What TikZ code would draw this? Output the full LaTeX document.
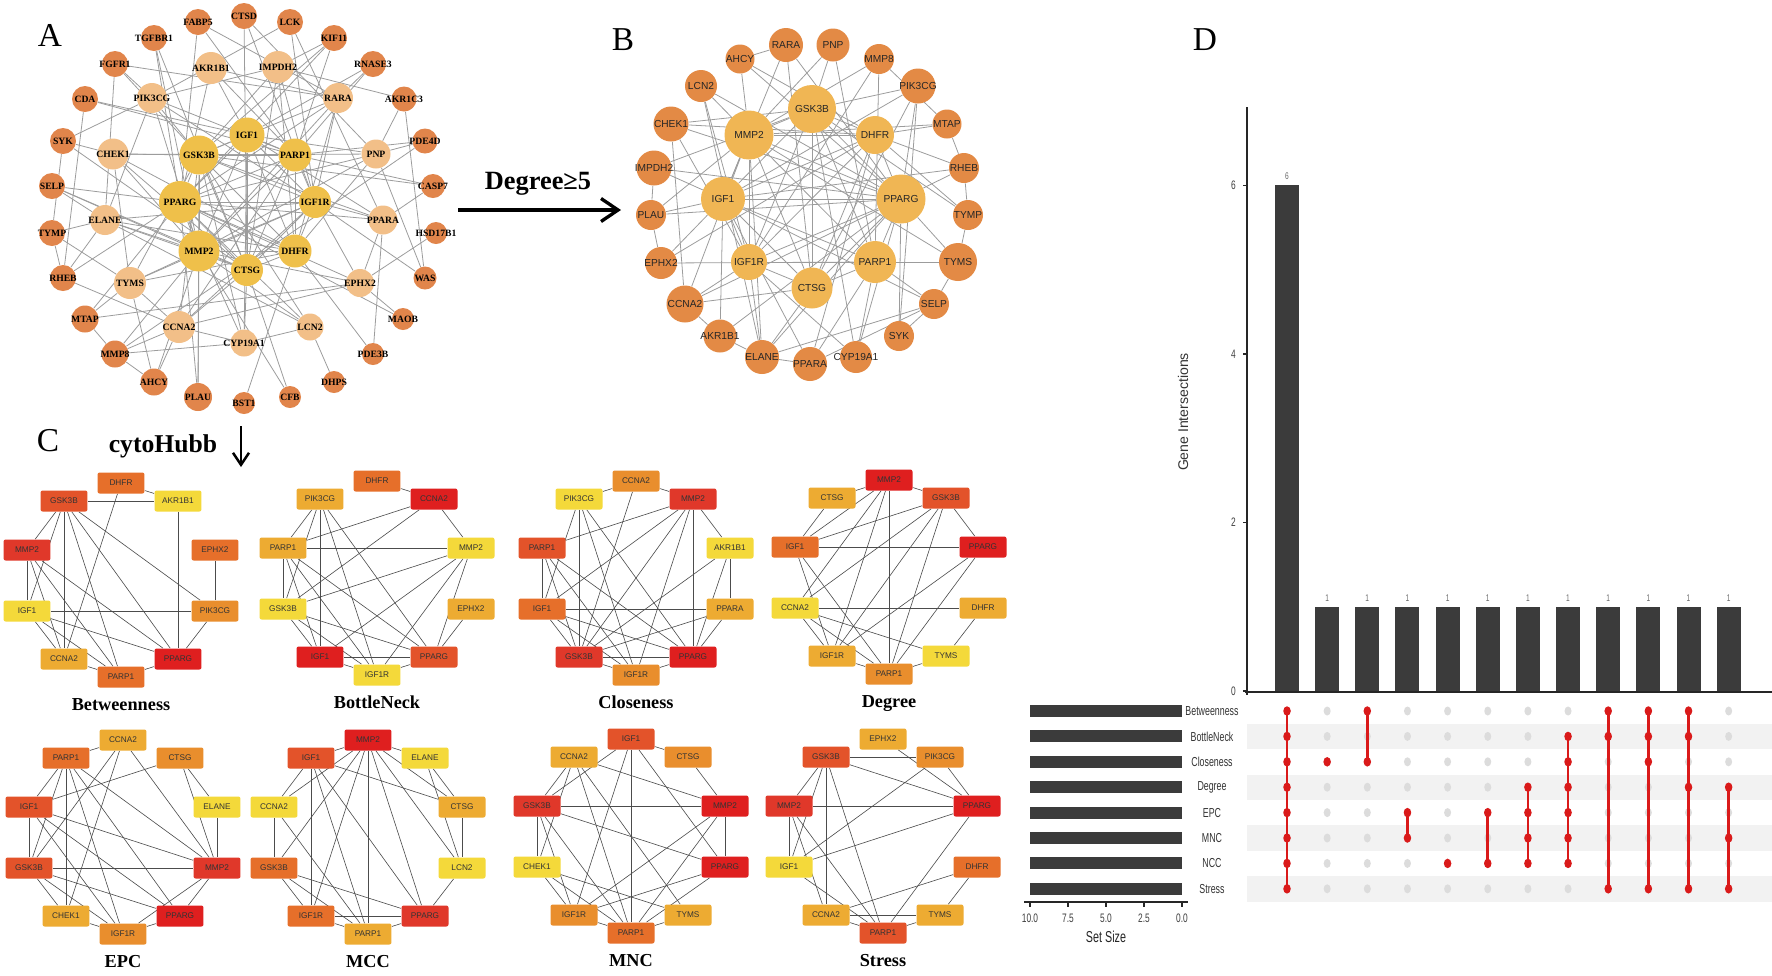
\documentclass[tikz,border=0pt]{standalone}
\usepackage{fontspec}
\setmainfont{Liberation Serif}
\setsansfont{Liberation Sans}
\newfontfamily\narrowsans[FakeStretch=0.68]{Liberation Sans}
\usetikzlibrary{arrows.meta}
\pgfdeclarelayer{bgfill}
\pgfdeclarelayer{edges}
\pgfsetlayers{bgfill,edges,main}
\definecolor{aouter}{HTML}{E1854B}
\definecolor{apeach}{HTML}{F2BF88}
\definecolor{ayellow}{HTML}{EFC04A}
\definecolor{bouter}{HTML}{E38A45}
\definecolor{binner}{HTML}{F0B654}
\definecolor{edgegray}{HTML}{9C9C9C}
\definecolor{hR1}{HTML}{DF1F1F}
\definecolor{hR2}{HTML}{E0382A}
\definecolor{hR3}{HTML}{E3532A}
\definecolor{hR4}{HTML}{E66F2A}
\definecolor{hR5}{HTML}{E98E2D}
\definecolor{hR6}{HTML}{EDAB32}
\definecolor{hR7}{HTML}{F4D93A}
\definecolor{barcol}{HTML}{3B3B3B}
\definecolor{dotred}{HTML}{DA1A1A}
\definecolor{dotgray}{HTML}{DCDCDC}
\definecolor{stripe}{HTML}{F2F2F2}
\tikzset{
  anode/.style={circle, inner sep=0pt, text=black, font=\fontsize{5.5}{6}\selectfont\bfseries},
  bnode/.style={circle, inner sep=0pt, text=black!85, font=\sffamily\fontsize{5.8}{6.5}\selectfont},
  aedge/.style={draw=edgegray, line width=0.45pt},
  hubbox/.style={rectangle, rounded corners=1.2pt, minimum width=0.94cm, minimum height=0.42cm, inner sep=0pt, text=black!80, font=\sffamily\fontsize{4.7}{5}\selectfont},
  hubedge/.style={draw=black!70, line width=0.35pt},
  hubtitle/.style={anchor=base, font=\bfseries\fontsize{10.4}{12}\selectfont},
  panellabel/.style={font=\fontsize{19}{22}\selectfont},
  bigarrow/.style={line width=1.9pt, -{Straight Barb[length=3.4mm,width=4.6mm]}},
  downarrow/.style={line width=1.4pt, -{Straight Barb[length=2.4mm,width=3.2mm]}},
  arrowtext/.style={font=\bfseries\fontsize{15}{17}\selectfont},
  axisline/.style={draw=black!85, line width=0.8pt},
  rowlabel/.style={font=\narrowsans\fontsize{7.4}{8}\selectfont, text=black!80},
  ticklabel/.style={font=\narrowsans\fontsize{7}{8}\selectfont, text=black!75},
  barlabel/.style={font=\narrowsans\fontsize{5.5}{6}\selectfont, text=black!60},
}
\newcommand\hubpanel[5]{%
  \foreach \hs/\hg/\hc in {#5} {
    \pgfmathsetmacro\px{#2+{0,-57,57,-94,94,-94,94,-57,57,0}[\hs]}
    \pgfmathsetmacro\py{#3+{-97,-79,-79,-30,-30,31,31,79,79,97}[\hs]}
    \node[hubbox, fill=\hc] (#1-\hg) at (\px,\py) {\hg};
  }
  \node[hubtitle] (#1-title) at (#2,#3+130) {#4};
}
\begin{document}
\begin{tikzpicture}[x=0.02cm,y=-0.02cm]
\useasboundingbox (0,0) rectangle (1772,975);
\begin{pgfonlayer}{bgfill}
\fill[white] (0,0) rectangle (1772,975);
\end{pgfonlayer}

% ---------------- Panel A ----------------
\node[panellabel] (labA) at (50,35) {A};
\foreach \n/\x/\y/\d/\t in {
 FABP5/198/22/26/aouter, CTSD/244/16/26/aouter, LCK/290/22/26/aouter, TGFBR1/154/38/26/aouter,
 KIF11/334/38/26/aouter, FGFR1/115/64/26/aouter, RNASE3/373/64/26/aouter, CDA/85/99/26/aouter,
 AKR1C3/404/99/25/aouter, SYK/63/141/26/aouter, PDE4D/425/141/25/aouter, SELP/52/186/26/aouter,
 CASP7/433/186/24/aouter, TYMP/52/233/26/aouter, HSD17B1/436/233/22/aouter, RHEB/63/278/26/aouter,
 WAS/425/278/23/aouter, MTAP/85/319/27/aouter, MAOB/403/319/22/aouter, MMP8/115/354/27/aouter,
 PDE3B/373/354/22/aouter, AHCY/154/382/27/aouter, DHPS/334/382/22/aouter, PLAU/198/397/28/aouter,
 BST1/244/403/22/aouter, CFB/290/397/22/aouter,
 AKR1B1/211/68/32/apeach, IMPDH2/278/67/32/apeach, PIK3CG/152/98/30/apeach, RARA/338/98/30/apeach,
 CHEK1/113/154/31/apeach, PNP/376/154/29/apeach, ELANE/105/220/30/apeach, PPARA/383/220/29/apeach,
 TYMS/130/283/32/apeach, EPHX2/360/283/28/apeach, CCNA2/179/327/32/apeach, LCN2/310/327/27/apeach,
 CYP19A1/244/343/27/apeach,
 IGF1/247/135/35/ayellow, GSK3B/199/155/39/ayellow, PARP1/295/155/33/ayellow, PPARG/180/202/42/ayellow,
 IGF1R/315/202/32/ayellow, MMP2/199/251/41/ayellow, DHFR/295/251/33/ayellow, CTSG/247/270/32/ayellow}
 \node[anode, fill=\t, minimum size=\d*0.02cm] (a-\n) at (\x,\y) {\makebox[0pt]{\n}};

\begin{pgfonlayer}{edges}
\foreach \u/\v in {
 FABP5/PPARG, FABP5/PARP1, FABP5/RARA, CTSD/CTSG, CTSD/IGF1R, CTSD/PNP,
 LCK/PIK3CG, LCK/PPARA, LCK/IGF1R, TGFBR1/PPARG, TGFBR1/MMP2, TGFBR1/CTSG,
 KIF11/IMPDH2, KIF11/PARP1, KIF11/GSK3B, KIF11/PPARG, FGFR1/PIK3CG, FGFR1/RARA, FGFR1/ELANE, FGFR1/GSK3B,
 RNASE3/RARA, RNASE3/IGF1, RNASE3/PARP1, CDA/IGF1, CDA/RHEB, CDA/PARP1,
 AKR1C3/PNP, AKR1C3/IMPDH2, AKR1C3/WAS, SYK/PIK3CG, SYK/CHEK1, SYK/CTSG, SYK/TYMP,
 PDE4D/PNP, PDE4D/PARP1, PDE4D/MMP8, SELP/ELANE, SELP/CTSG, SELP/MMP2, SELP/PPARG,
 CASP7/PARP1, CASP7/PPARA, CASP7/GSK3B, TYMP/TYMS, TYMP/RHEB, TYMP/ELANE, HSD17B1/EPHX2,
 RHEB/PPARG, RHEB/CCNA2, RHEB/ELANE, WAS/IGF1R, WAS/PNP,
 MTAP/MMP8, MTAP/EPHX2, MTAP/TYMS, MTAP/PPARG, MAOB/EPHX2, MAOB/PPARG,
 MMP8/CYP19A1, MMP8/MMP2, MMP8/CCNA2, MMP8/AHCY, PDE3B/PPARA, PDE3B/DHFR,
 AHCY/TYMS, AHCY/CCNA2, AHCY/MMP2, DHPS/LCN2, PLAU/MMP2, PLAU/PPARG, PLAU/GSK3B,
 BST1/DHFR, CFB/CTSG, CFB/MMP2,
 AKR1B1/PPARG, AKR1B1/IGF1, AKR1B1/PARP1, AKR1B1/RARA,
 IMPDH2/GSK3B, IMPDH2/PIK3CG, IMPDH2/IGF1R, IMPDH2/DHFR, IMPDH2/CTSG,
 PIK3CG/GSK3B, PIK3CG/IGF1R, PIK3CG/MMP2, PIK3CG/PARP1, PIK3CG/ELANE,
 RARA/GSK3B, RARA/PPARG, RARA/IGF1R, RARA/DHFR, RARA/MMP2,
 CHEK1/GSK3B, CHEK1/PARP1, CHEK1/MMP2, CHEK1/CTSG, CHEK1/DHFR, CHEK1/TYMS,
 PNP/GSK3B, PNP/IGF1, PNP/PPARG, PNP/DHFR, PNP/MMP2,
 ELANE/CTSG, ELANE/MMP2, ELANE/IGF1R, ELANE/DHFR, ELANE/LCN2,
 PPARA/PPARG, PPARA/GSK3B, PPARA/IGF1, PPARA/IGF1R, PPARA/EPHX2,
 TYMS/DHFR, TYMS/GSK3B, TYMS/CCNA2, TYMS/MMP2, TYMS/IGF1R,
 EPHX2/PPARG, EPHX2/MMP2, EPHX2/IGF1R, EPHX2/CCNA2,
 CCNA2/GSK3B, CCNA2/IGF1R, CCNA2/CTSG, CCNA2/PARP1, CCNA2/CYP19A1,
 LCN2/MMP2, LCN2/GSK3B, LCN2/PPARG, LCN2/CYP19A1,
 CYP19A1/CTSG, CYP19A1/IGF1, CYP19A1/GSK3B, CYP19A1/PPARG,
 IGF1/GSK3B, IGF1/PARP1, IGF1/PPARG, IGF1/IGF1R, IGF1/MMP2, IGF1/DHFR, IGF1/CTSG,
 GSK3B/PARP1, GSK3B/PPARG, GSK3B/IGF1R, GSK3B/MMP2, GSK3B/DHFR, GSK3B/CTSG,
 PARP1/PPARG, PARP1/IGF1R, PARP1/MMP2, PARP1/DHFR, PARP1/CTSG,
 PPARG/IGF1R, PPARG/MMP2, PPARG/DHFR, PPARG/CTSG,
 IGF1R/MMP2, IGF1R/DHFR, IGF1R/CTSG, MMP2/DHFR, MMP2/CTSG, DHFR/CTSG}
 \draw[aedge] (a-\u) -- (a-\v);
\end{pgfonlayer}

% ---------------- Arrow A -> B ----------------
\coordinate (degS) at (458,210);
\coordinate (degE) at (621,210);
\draw[bigarrow] (degS) -- (degE);
\node[arrowtext] (degL) at (538,184) {Degree≥5};

% ---------------- Panel B ----------------
\node[panellabel] (labB) at (623,40) {B};
\foreach \n/\x/\y/\d/\t in {
 RARA/786/45/34/bouter, PNP/833/45/33/bouter, AHCY/740/59/29/bouter, MMP8/879/59/30/bouter,
 LCN2/701/86/32/bouter, PIK3CG/918/86/35/bouter, CHEK1/671/124/35/bouter, MTAP/947/124/29/bouter,
 IMPDH2/654/168/35/bouter, RHEB/964/168/30/bouter, PLAU/651/215/30/bouter, TYMP/968/215/30/bouter,
 EPHX2/661/263/32/bouter, TYMS/958/262/38/bouter, CCNA2/685/304/37/bouter, SELP/934/304/30/bouter,
 AKR1B1/720/336/33/bouter, SYK/899/336/30/bouter, ELANE/762/357/34/bouter, PPARA/810/364/34/bouter,
 CYP19A1/856/357/32/bouter,
 GSK3B/812/109/48/binner, MMP2/749/135/49/binner, DHFR/875/135/38/binner, IGF1/723/199/44/binner,
 PPARG/901/199/49/binner, IGF1R/749/262/36/binner, PARP1/875/262/42/binner, CTSG/812/288/41/binner}
 \node[bnode, fill=\t, minimum size=\d*0.02cm] (b-\n) at (\x,\y) {\makebox[0pt]{\n}};

\begin{pgfonlayer}{edges}
\foreach \u/\v in {
 RARA/AHCY, RARA/IGF1, RARA/CTSG, RARA/PPARG, PNP/MMP2, PNP/GSK3B, PNP/PARP1,
 AHCY/MMP2, AHCY/PPARG, AHCY/DHFR, MMP8/MMP2, MMP8/MTAP, MMP8/IGF1R, MMP8/PARP1,
 LCN2/IGF1R, LCN2/PPARG, LCN2/ELANE, LCN2/MMP2,
 PIK3CG/GSK3B, PIK3CG/IGF1, PIK3CG/PPARG, PIK3CG/SYK, PIK3CG/CTSG,
 CHEK1/DHFR, CHEK1/PPARG, CHEK1/IGF1R, CHEK1/CCNA2, CHEK1/GSK3B,
 MTAP/DHFR, MTAP/MMP2, MTAP/RHEB, IMPDH2/GSK3B, IMPDH2/IGF1, IMPDH2/PPARG, IMPDH2/PLAU,
 RHEB/PPARG, RHEB/IGF1, RHEB/DHFR, RHEB/TYMP, PLAU/IGF1, PLAU/PPARG, PLAU/EPHX2, PLAU/MMP2,
 TYMP/DHFR, TYMP/TYMS, TYMP/GSK3B, EPHX2/IGF1, EPHX2/PARP1, EPHX2/DHFR,
 TYMS/PPARG, TYMS/IGF1R, TYMS/MMP2, TYMS/SELP,
 CCNA2/IGF1R, CCNA2/CTSG, CCNA2/PPARG, CCNA2/MMP2, CCNA2/AKR1B1,
 SELP/PARP1, SELP/SYK, SELP/IGF1, SELP/ELANE, AKR1B1/IGF1, AKR1B1/ELANE, AKR1B1/PPARG,
 SYK/PPARG, ELANE/MMP2, ELANE/IGF1R, ELANE/PPARG, ELANE/PPARA, ELANE/CTSG,
 PPARA/IGF1, PPARA/PARP1, PPARA/DHFR, PPARA/SELP,
 CYP19A1/PARP1, CYP19A1/PPARG, CYP19A1/IGF1R, CYP19A1/GSK3B,
 GSK3B/MMP2, GSK3B/DHFR, GSK3B/IGF1, GSK3B/PPARG, GSK3B/IGF1R, GSK3B/PARP1, GSK3B/CTSG,
 MMP2/DHFR, MMP2/IGF1, MMP2/PPARG, MMP2/IGF1R, MMP2/PARP1, MMP2/CTSG,
 DHFR/IGF1, DHFR/PPARG, DHFR/IGF1R, DHFR/CTSG, IGF1/PPARG, IGF1/IGF1R, IGF1/PARP1, IGF1/CTSG,
 PPARG/IGF1R, PPARG/PARP1, PPARG/CTSG, IGF1R/PARP1, IGF1R/CTSG, PARP1/CTSG}
 \draw[aedge] (b-\u) -- (b-\v);
\end{pgfonlayer}

% ---------------- Panel C ----------------
\node[panellabel] (labC) at (48,441) {C};
\node[arrowtext, font=\bfseries\fontsize{14.6}{17}\selectfont] (cytL) at (163,446) {cytoHubb};
\coordinate (cytS) at (241,426);
\coordinate (cytE) at (241,467);
\draw[downarrow] (cytS) -- (cytE);

\hubpanel{be}{121}{580}{Betweenness}{0/DHFR/hR4, 1/GSK3B/hR3, 2/AKR1B1/hR7, 3/MMP2/hR2, 4/EPHX2/hR4, 5/IGF1/hR7, 6/PIK3CG/hR5, 7/CCNA2/hR6, 8/PPARG/hR1, 9/PARP1/hR4}
\hubpanel{bn}{377}{578}{BottleNeck}{0/DHFR/hR4, 1/PIK3CG/hR6, 2/CCNA2/hR1, 3/PARP1/hR6, 4/MMP2/hR7, 5/GSK3B/hR7, 6/EPHX2/hR6, 7/IGF1/hR1, 8/PPARG/hR3, 9/IGF1R/hR7}
\hubpanel{cl}{636}{578}{Closeness}{0/CCNA2/hR5, 1/PIK3CG/hR7, 2/MMP2/hR2, 3/PARP1/hR3, 4/AKR1B1/hR7, 5/IGF1/hR4, 6/PPARA/hR6, 7/GSK3B/hR2, 8/PPARG/hR1, 9/IGF1R/hR5}
\hubpanel{dg}{889}{577}{Degree}{0/MMP2/hR1, 1/CTSG/hR6, 2/GSK3B/hR3, 3/IGF1/hR4, 4/PPARG/hR1, 5/CCNA2/hR7, 6/DHFR/hR6, 7/IGF1R/hR6, 8/TYMS/hR7, 9/PARP1/hR5}
\hubpanel{ep}{123}{837}{EPC}{0/CCNA2/hR6, 1/PARP1/hR4, 2/CTSG/hR5, 3/IGF1/hR3, 4/ELANE/hR7, 5/GSK3B/hR3, 6/MMP2/hR2, 7/CHEK1/hR6, 8/PPARG/hR1, 9/IGF1R/hR5}
\hubpanel{mc}{368}{837}{MCC}{0/MMP2/hR1, 1/IGF1/hR3, 2/ELANE/hR7, 3/CCNA2/hR7, 4/CTSG/hR6, 5/GSK3B/hR4, 6/LCN2/hR7, 7/IGF1R/hR4, 8/PPARG/hR2, 9/PARP1/hR6}
\hubpanel{mn}{631}{836}{MNC}{0/IGF1/hR3, 1/CCNA2/hR6, 2/CTSG/hR5, 3/GSK3B/hR2, 4/MMP2/hR1, 5/CHEK1/hR7, 6/PPARG/hR1, 7/IGF1R/hR5, 8/TYMS/hR6, 9/PARP1/hR4}
\hubpanel{st}{883}{836}{Stress}{0/EPHX2/hR6, 1/GSK3B/hR3, 2/PIK3CG/hR5, 3/MMP2/hR2, 4/PPARG/hR1, 5/IGF1/hR7, 6/DHFR/hR4, 7/CCNA2/hR6, 8/TYMS/hR6, 9/PARP1/hR3}

\begin{pgfonlayer}{edges}
\foreach \u/\v in {GSK3B/AKR1B1, DHFR/AKR1B1, DHFR/CCNA2, AKR1B1/PPARG, EPHX2/PIK3CG, GSK3B/MMP2, GSK3B/IGF1, GSK3B/CCNA2, GSK3B/PARP1, GSK3B/PPARG, GSK3B/PIK3CG, MMP2/IGF1, MMP2/CCNA2, MMP2/PARP1, MMP2/PPARG, IGF1/PIK3CG, IGF1/CCNA2, IGF1/PARP1, IGF1/PPARG, PIK3CG/PPARG, CCNA2/PARP1, PARP1/PPARG}
 \draw[hubedge] (be-\u) -- (be-\v);
\foreach \u/\v in {DHFR/CCNA2, CCNA2/MMP2, CCNA2/PARP1, CCNA2/GSK3B, PIK3CG/PARP1, PIK3CG/GSK3B, PIK3CG/IGF1, PIK3CG/IGF1R, PIK3CG/PPARG, PARP1/MMP2, PARP1/GSK3B, PARP1/IGF1, PARP1/IGF1R, PARP1/PPARG, GSK3B/MMP2, GSK3B/IGF1, GSK3B/IGF1R, GSK3B/PPARG, MMP2/IGF1, MMP2/IGF1R, MMP2/PPARG, EPHX2/PPARG, IGF1/PPARG, IGF1/IGF1R, IGF1R/PPARG}
 \draw[hubedge] (bn-\u) -- (bn-\v);
\foreach \u/\v in {CCNA2/MMP2, CCNA2/PIK3CG, CCNA2/GSK3B, PIK3CG/IGF1, PIK3CG/GSK3B, PIK3CG/IGF1R, PIK3CG/PPARG, MMP2/PARP1, MMP2/IGF1, MMP2/GSK3B, MMP2/IGF1R, MMP2/PPARG, MMP2/AKR1B1, PARP1/IGF1, PARP1/GSK3B, PARP1/IGF1R, PARP1/PPARG, AKR1B1/PPARA, AKR1B1/GSK3B, AKR1B1/PPARG, IGF1/PPARA, IGF1/GSK3B, IGF1/IGF1R, IGF1/PPARG, PPARA/GSK3B, PPARA/PPARG, GSK3B/PPARG, GSK3B/IGF1R, IGF1R/PPARG}
 \draw[hubedge] (cl-\u) -- (cl-\v);
\foreach \u/\v in {MMP2/CTSG, MMP2/GSK3B, MMP2/IGF1, MMP2/CCNA2, MMP2/IGF1R, MMP2/PARP1, CTSG/IGF1, GSK3B/PPARG, GSK3B/IGF1, GSK3B/CCNA2, GSK3B/IGF1R, GSK3B/PARP1, IGF1/PPARG, IGF1/IGF1R, IGF1/PARP1, CCNA2/DHFR, CCNA2/IGF1R, CCNA2/PARP1, CCNA2/TYMS, PPARG/IGF1R, PPARG/PARP1, DHFR/TYMS, IGF1R/PARP1, TYMS/PARP1}
 \draw[hubedge] (dg-\u) -- (dg-\v);
\foreach \u/\v in {CCNA2/PARP1, CCNA2/GSK3B, CCNA2/CHEK1, CCNA2/MMP2, PARP1/IGF1, PARP1/GSK3B, PARP1/CHEK1, PARP1/IGF1R, PARP1/PPARG, PARP1/MMP2, CTSG/IGF1, CTSG/ELANE, CTSG/MMP2, ELANE/MMP2, IGF1/GSK3B, IGF1/MMP2, IGF1/IGF1R, IGF1/PPARG, GSK3B/MMP2, GSK3B/CHEK1, GSK3B/IGF1R, GSK3B/PPARG, MMP2/PPARG, MMP2/IGF1R, CHEK1/IGF1R, IGF1R/PPARG}
 \draw[hubedge] (ep-\u) -- (ep-\v);
\foreach \u/\v in {MMP2/IGF1, MMP2/ELANE, MMP2/CCNA2, MMP2/GSK3B, MMP2/IGF1R, MMP2/PARP1, MMP2/PPARG, MMP2/CTSG, MMP2/LCN2, IGF1/CCNA2, IGF1/IGF1R, IGF1/PARP1, IGF1/PPARG, IGF1/CTSG, ELANE/CTSG, ELANE/LCN2, CCNA2/GSK3B, CCNA2/PARP1, GSK3B/IGF1R, GSK3B/PARP1, GSK3B/PPARG, CTSG/LCN2, LCN2/PPARG, IGF1R/PPARG, IGF1R/PARP1, PARP1/PPARG}
 \draw[hubedge] (mc-\u) -- (mc-\v);
\foreach \u/\v in {IGF1/CTSG, IGF1/GSK3B, IGF1/IGF1R, IGF1/PARP1, IGF1/PPARG, CCNA2/GSK3B, CCNA2/MMP2, CCNA2/PARP1, CCNA2/TYMS, CCNA2/CHEK1, CTSG/MMP2, GSK3B/MMP2, GSK3B/CHEK1, GSK3B/IGF1R, GSK3B/PARP1, GSK3B/PPARG, MMP2/PPARG, MMP2/IGF1R, MMP2/PARP1, CHEK1/IGF1R, CHEK1/TYMS, CHEK1/PARP1, PPARG/IGF1R, PPARG/PARP1, IGF1R/PARP1, TYMS/PARP1}
 \draw[hubedge] (mn-\u) -- (mn-\v);
\foreach \u/\v in {EPHX2/PPARG, GSK3B/PIK3CG, GSK3B/PPARG, GSK3B/MMP2, GSK3B/IGF1, GSK3B/CCNA2, GSK3B/PARP1, PIK3CG/PPARG, PIK3CG/IGF1, MMP2/PPARG, MMP2/IGF1, MMP2/PARP1, MMP2/CCNA2, IGF1/PPARG, IGF1/PARP1, PPARG/PARP1, DHFR/CCNA2, DHFR/TYMS, CCNA2/TYMS, CCNA2/PARP1, TYMS/PARP1}
 \draw[hubedge] (st-\u) -- (st-\v);
\end{pgfonlayer}

% ---------------- Panel D ----------------
\node[panellabel] (labD) at (1205,40) {D};
\foreach \rn [count=\r from 0] in {Betweenness,BottleNeck,Closeness,Degree,EPC,MNC,NCC,Stress}{
  \pgfmathsetmacro\yy{711+25.4*\r}
  \ifodd\r \fill[stripe] (1247,\yy-12.7) rectangle (1772,\yy+12.7);\fi
  \fill[barcol] (1030,\yy-6) rectangle (1182,\yy+6);
  \node[rowlabel] at (1212,\yy) {\rn};
  \foreach \cc in {0,...,11}{
    \fill[dotgray] (1287+40.15*\cc,\yy) ellipse [x radius=0.07cm, y radius=0.09cm];
  }
}
\foreach \i/\h in {0/6,1/1,2/1,3/1,4/1,5/1,6/1,7/1,8/1,9/1,10/1,11/1}{
  \pgfmathsetmacro\xl{1275+40.15*\i}
  \pgfmathsetmacro\yt{691-84.3*\h}
  \fill[barcol] (\xl,691) rectangle (\xl+24,\yt);
  \node[barlabel] at (\xl+12,\yt-9) {\h};
}
\draw[axisline] (1247,107) -- (1247,695);
\draw[axisline] (1245,692) -- (1772,692);
\foreach \v in {0,2,4,6}{
  \pgfmathsetmacro\yy{691-84.3*\v}
  \draw[axisline] (1243,\yy) -- (1247,\yy);
  \node[ticklabel, anchor=east] at (1242,\yy) {\v};
}
\node[rotate=90, font=\sffamily\fontsize{8}{9}\selectfont, text=black!80] (gi) at (1183,412) {Gene Intersections};
\foreach \cc/\rows/\lo/\hi in {0/{0,1,2,3,4,5,6,7}/0/7, 1/{2}/2/2, 2/{0,2}/0/2, 3/{4,5}/4/5, 4/{6}/6/6, 5/{4,6}/4/6, 6/{3,4,5,6}/3/6, 7/{1,2,3,4,5,6}/1/6, 8/{0,1,7}/0/7, 9/{0,1,2,7}/0/7, 10/{0,1,3,7}/0/7, 11/{3,5,7}/3/7}{
  \pgfmathsetmacro\xx{1287+40.15*\cc}
  \draw[dotred, line width=1.5pt] (\xx,711+25.4*\lo) -- (\xx,711+25.4*\hi);
  \foreach \r in \rows {
    \fill[dotred] (\xx,711+25.4*\r) ellipse [x radius=0.075cm, y radius=0.095cm];
  }
}
\draw[axisline] (1024,902) -- (1188,902);
\foreach \xv/\lab in {1030/10.0,1068/7.5,1106/5.0,1144/2.5,1182/0.0}{
  \draw[axisline] (\xv,902) -- (\xv,907);
  \node[ticklabel] at (\xv,918) {\lab};
}
\node[font=\narrowsans\fontsize{9}{10}\selectfont, text=black!85] (ss) at (1106,937) {Set Size};
\end{tikzpicture}
\end{document}
